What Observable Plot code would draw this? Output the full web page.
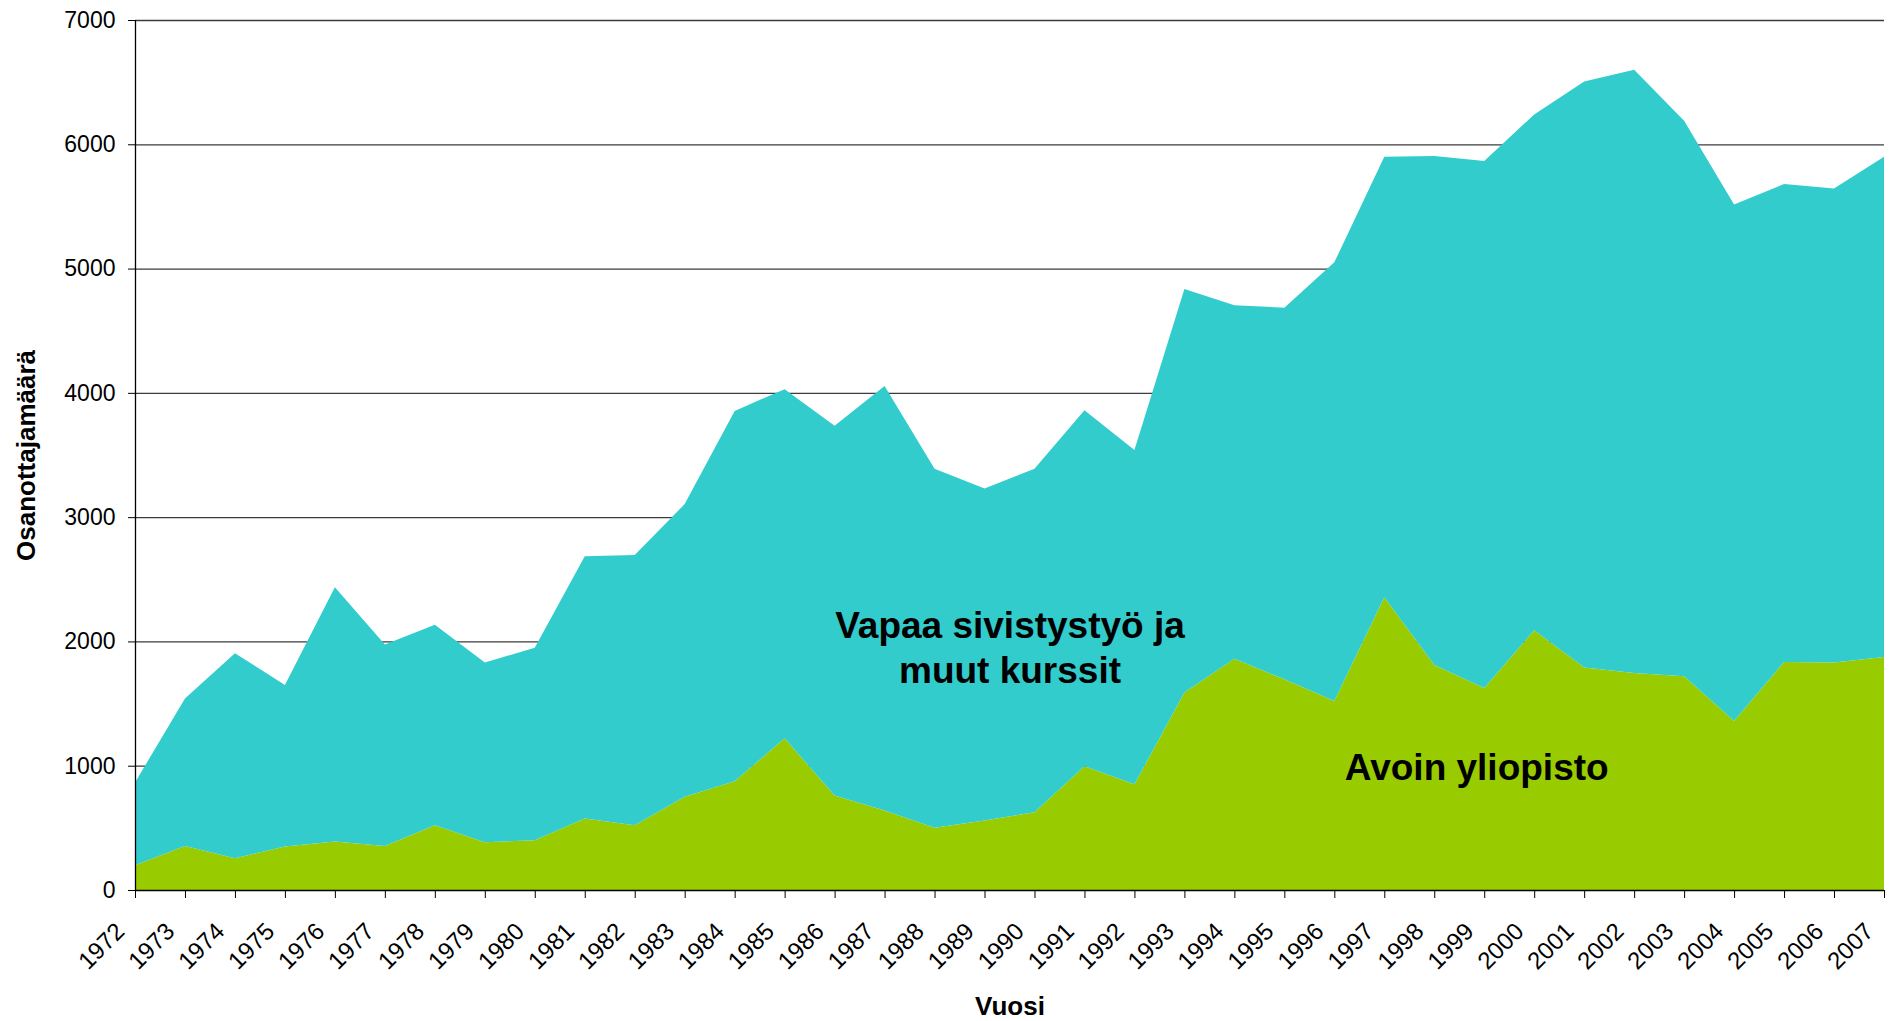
<!DOCTYPE html>
<html>
<head>
<meta charset="utf-8">
<script src="https://cdn.jsdelivr.net/npm/d3@7"></script>
<script src="https://cdn.jsdelivr.net/npm/@observablehq/plot@0.6"></script>
<style>
  html, body { margin: 0; padding: 0; background: #fff; }
  #chart svg { display: block; }
</style>
</head>
<body>
<div id="chart"></div>
<script>
const years = [1972,1973,1974,1975,1976,1977,1978,1979,1980,1981,1982,1983,1984,1985,1986,1987,1988,1989,
               1990,1991,1992,1993,1994,1995,1996,1997,1998,1999,2000,2001,2002,2003,2004,2005,2006,2007];

// Avoin yliopisto (bottom, green)
const avoinYliopisto = [200,355,255,350,390,355,520,385,400,575,520,750,875,1220,760,640,500,560,
                        625,995,850,1590,1860,1695,1520,2355,1810,1625,2090,1790,1745,1720,1360,1835,1830,1875];

// Vapaa sivistystyö ja muut kurssit (stacked on top, cyan)
const vapaaSivistystyo = [665,1185,1650,1300,2045,1620,1615,1445,1550,2110,2175,2355,2980,2810,2975,3415,2890,2670,
                          2765,2865,2690,3245,2845,2990,3530,3545,4095,4240,4150,4715,4855,4470,4155,3845,3815,4025];

const yTicks = [0,1000,2000,3000,4000,5000,6000,7000];
const seriesNames = ["Avoin yliopisto", "Vapaa sivistystyö ja muut kurssit"];
const seriesColors = ["#99CC00", "#33CCCC"];

const areaLabels = [
  {year: 1989.5, value: 1965, text: "Vapaa sivistystyö ja\nmuut kurssit"},
  {year: 1998.84, value: 1008, text: "Avoin yliopisto"}
];

const rows = [];
years.forEach((yr, i) => rows.push({year: yr, series: seriesNames[0], value: avoinYliopisto[i]}));
years.forEach((yr, i) => rows.push({year: yr, series: seriesNames[1], value: vapaaSivistystyo[i]}));

const chart = Plot.plot({
  width: 1890,
  height: 1021,
  marginLeft: 135,
  marginRight: 6,
  marginTop: 20,
  marginBottom: 131,
  style: {fontFamily: "'Liberation Sans', Arial, sans-serif", background: "#fff", color: "#000"},
  x: {domain: [1972, 2007]},
  y: {domain: [0, 7000]},
  color: {domain: seriesNames, range: seriesColors},
  marks: [
    Plot.gridY(yTicks.filter(v => v > 0), {stroke: "#3c3c3c", strokeOpacity: 1, strokeWidth: 1.3}),
    Plot.areaY(rows, {x: "year", y: "value", fill: "series"}),
    Plot.ruleY([0], {stroke: "#000", strokeWidth: 1.3}),
    Plot.ruleX([1972], {stroke: "#000", strokeWidth: 1.3}),
    Plot.axisX({ticks: years, tickSize: 8, tickFormat: () => null, label: null, stroke: "#000"}),
    Plot.text(years, {x: d => d, text: d => String(d), frameAnchor: "bottom", rotate: -45,
                      textAnchor: "end", lineAnchor: "middle", dx: -15, dy: 37, fontSize: 24}),
    Plot.axisY({ticks: yTicks, tickFormat: "d", tickSize: 7, tickPadding: 13,
                fontSize: 23, label: null, stroke: "#000"}),
    Plot.text(["Vuosi"], {frameAnchor: "bottom", lineAnchor: "middle", dy: 116, fontSize: 26, fontWeight: "bold"}),
    Plot.text(["Osanottajamäärä"], {frameAnchor: "left", textAnchor: "middle", lineAnchor: "middle",
                                      dx: -109, rotate: -90, fontSize: 26, fontWeight: "bold"}),
    Plot.text(areaLabels, {x: "year", y: "value", text: "text", fontSize: 37, fontWeight: "bold", lineHeight: 1.21})
  ]
});
document.getElementById("chart").appendChild(chart);
</script>
</body>
</html>
